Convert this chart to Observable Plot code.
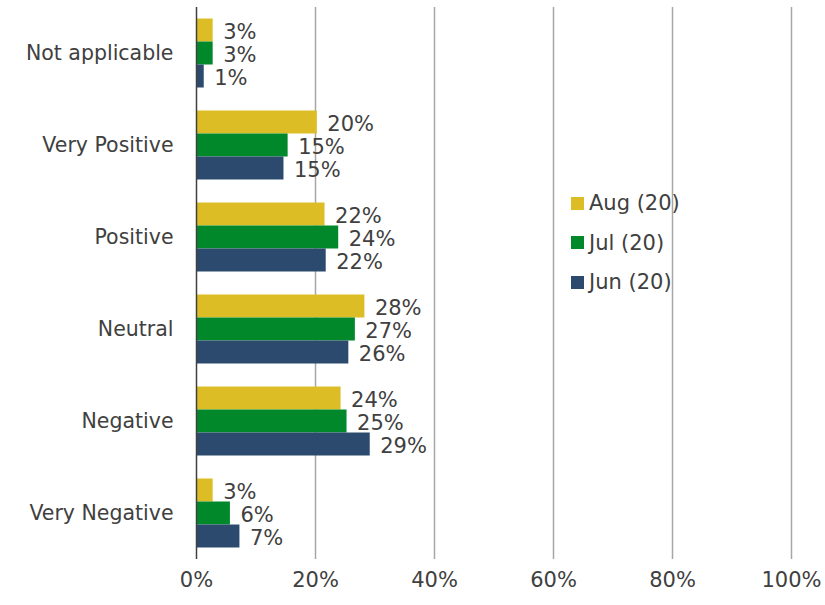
<!DOCTYPE html>
<html>
<head>
<meta charset="utf-8">
<script src="https://cdn.jsdelivr.net/npm/d3@7"></script>
<script src="https://cdn.jsdelivr.net/npm/@observablehq/plot@0.6"></script>
<style>
  html, body { margin: 0; padding: 0; background: #fff; }
  #wrap { position: relative; width: 825px; height: 605px; font-family: "DejaVu Sans", sans-serif; }
  #legend { position: absolute; left: 571px; top: 193px; font-size: 21px; color: #404040; }
  .item { display: flex; align-items: center; height: 20px; margin-bottom: 19.5px; }
  .sw { width: 13px; height: 13px; margin-right: 5px; }
</style>
</head>
<body>
<div id="wrap"><div id="legend"></div></div>
<script>
const categories = ["Not applicable", "Very Positive", "Positive", "Neutral", "Negative", "Very Negative"];
const series = ["Aug (20)", "Jul (20)", "Jun (20)"];
const colors = ["#dcbd26", "#00882b", "#2c4a6e"];
const aug = [2.8, 20.3, 21.6, 28.3, 24.3, 2.8];
const jul = [2.8, 15.4, 23.9, 26.7, 25.3, 5.7];
const jun = [1.3, 14.7, 21.8, 25.6, 29.2, 7.3];
const xTicks = [0, 20, 40, 60, 80, 100];

const valuesBySeries = [aug, jul, jun];
const table = [];
series.forEach((s, si) => categories.forEach((c, ci) => table.push({series: s, si, category: c, value: valuesBySeries[si][ci]})));

const bandH = 69 / 3;
const marks = [
  Plot.ruleX(xTicks.slice(1), {stroke: "#a6a6a6", strokeWidth: 1.5})
];
series.forEach((s, si) => {
  const d = table.filter(r => r.si === si);
  marks.push(Plot.barX(d, {
    x: "value", y: "category", fill: colors[si],
    insetTop: si * bandH, insetBottom: (2 - si) * bandH
  }));
  marks.push(Plot.text(d, {
    x: "value", y: "category", text: r => Math.round(r.value) + "%",
    dx: 10, dy: (si - 1) * bandH + 2, textAnchor: "start", fill: "#404040", fontSize: 21
  }));
});
marks.push(Plot.ruleX([0], {stroke: "#404040", strokeWidth: 1.5}));
marks.push(Plot.axisX(xTicks, {tickSize: 0, tickPadding: 13, tickFormat: d => d + "%", fontSize: 21, label: null}));
marks.push(Plot.axisY({tickSize: 0, tickPadding: 23, fontSize: 20.5, label: null}));

const chart = Plot.plot({
  width: 825, height: 605,
  marginLeft: 196, marginRight: 34, marginTop: 7, marginBottom: 46,
  style: {fontFamily: "DejaVu Sans, sans-serif", fontSize: "21px", color: "#404040", background: "#fff"},
  x: {domain: [0, 100]},
  y: {domain: categories, paddingInner: 0.25, paddingOuter: 0.125, round: false},
  marks
});
const wrap = document.getElementById("wrap");
wrap.insertBefore(chart, wrap.firstChild);

const legend = document.getElementById("legend");
series.forEach((s, i) => {
  const it = document.createElement("div");
  it.className = "item";
  const sw = document.createElement("div");
  sw.className = "sw";
  sw.style.background = colors[i];
  const tx = document.createElement("span");
  tx.textContent = s;
  it.appendChild(sw); it.appendChild(tx);
  legend.appendChild(it);
});
</script>
</body>
</html>
